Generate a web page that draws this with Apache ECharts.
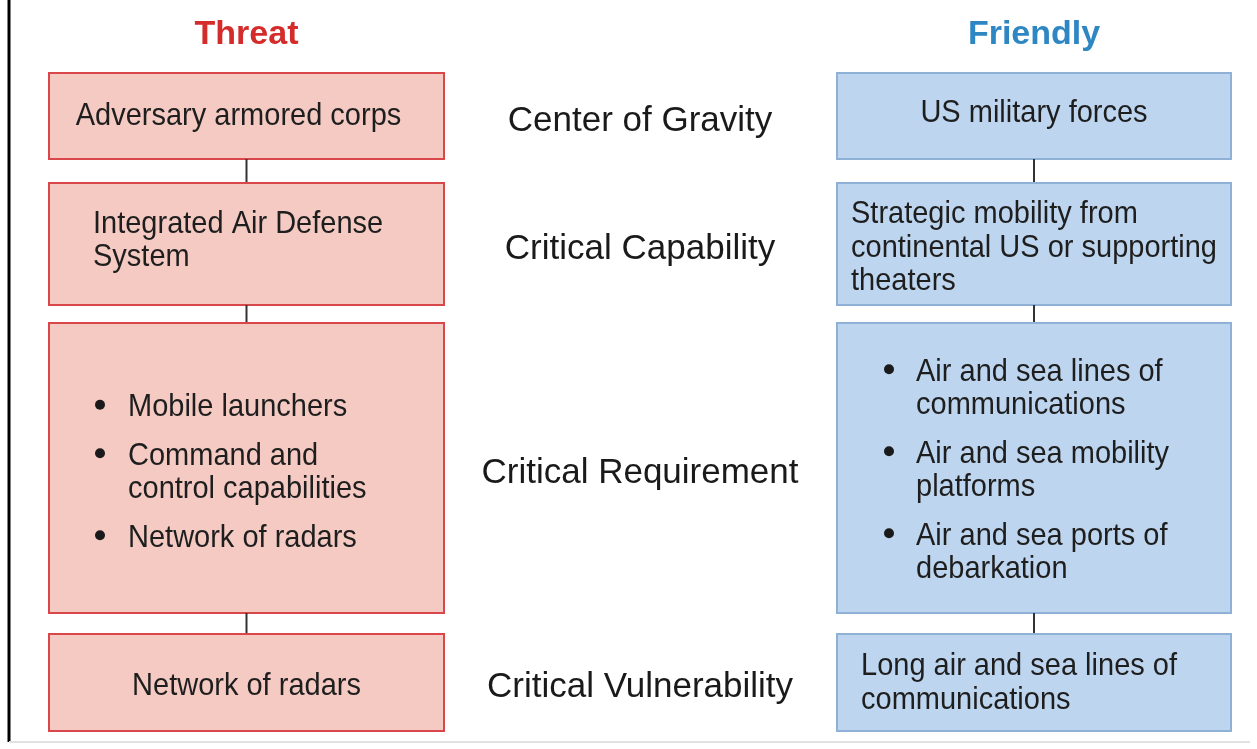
<!DOCTYPE html>
<html>
<head>
<meta charset="utf-8">
<title>Center of gravity analysis</title>
<script src="https://cdn.jsdelivr.net/npm/echarts@6/dist/echarts.min.js"></script>
<style>
  html, body { margin: 0; padding: 0; background: #ffffff; }
  #main { width: 1257px; height: 749px; }
</style>
</head>
<body>
<div id="main"></div>
<script>
// content of the diagram
var columnTitles = ['Threat', 'Friendly'];
var rowLabels = ['Center of Gravity', 'Critical Capability', 'Critical Requirement', 'Critical Vulnerability'];
// a string is a plain box, an array is a bullet list
var threatBoxes = [
    'Adversary armored corps',
    'Integrated Air Defense\nSystem',
    ['Mobile launchers', 'Command and\ncontrol capabilities', 'Network of radars'],
    'Network of radars'
];
var friendlyBoxes = [
    'US military forces',
    'Strategic mobility from\ncontinental US or supporting\ntheaters',
    ['Air and sea lines of\ncommunications', 'Air and sea mobility\nplatforms', 'Air and sea ports of\ndebarkation'],
    'Long air and sea lines of\ncommunications'
];

// layout (pixel units of the hidden axes)
var rowTop = [73, 183, 323, 634];
var rowBottom = [159, 305, 613, 731];
var cols = [
    { x0: 49, x1: 444, fill: '#f4cac3', stroke: '#d9474b', title: '#d42b2b', boxes: threatBoxes,
      place: [{ a: 'center', dx: -8, dy: -3 }, { a: 'left', pad: 44, dy: -6 }, { a: 'bullet', bx: 51, tx: 79, dy: 2 }, { a: 'center', dx: 0, dy: 1 }] },
    { x0: 837, x1: 1231, fill: '#bdd5ef', stroke: '#8fb1d6', title: '#2e87c3', boxes: friendlyBoxes,
      place: [{ a: 'center', dx: 0, dy: -6 }, { a: 'left', pad: 14, dy: 1 }, { a: 'bullet', bx: 52, tx: 79, dy: 0 }, { a: 'left', pad: 24, dy: -2 }] }
];
var FONT = '"Liberation Sans", Arial, sans-serif';
var LH = 33.5, GAP = 15, SHIFT = 3;

function txt(p, s, size, color, align, weight, sy) {
    return {
        type: 'text',
        x: p[0], y: p[1],
        scaleY: sy || 1,
        style: { text: s, x: 0, y: 0, fill: color, fontSize: size, fontFamily: FONT,
                 fontWeight: weight || 'normal', align: align, verticalAlign: 'middle' }
    };
}

function renderRow(params, api) {
    var i = api.value(0);
    var kids = [];
    var cy = (rowTop[i] + rowBottom[i]) / 2;
    cols.forEach(function (c, k) {
        var tl = api.coord([c.x0, rowTop[i]]);
        var br = api.coord([c.x1, rowBottom[i]]);
        var mid = (c.x0 + c.x1) / 2;
        if (i === 0) {
            kids.push(txt(api.coord([mid, 34.5]), columnTitles[k], 34, c.title, 'center', 'bold'));
        } else {
            var a = api.coord([mid, rowBottom[i - 1]]), b = api.coord([mid, rowTop[i]]);
            kids.push({ type: 'line', shape: { x1: a[0], y1: a[1], x2: b[0], y2: b[1] },
                        style: { stroke: '#333333', lineWidth: 2 } });
        }
        kids.push({ type: 'rect', shape: { x: tl[0], y: tl[1], width: br[0] - tl[0], height: br[1] - tl[1] },
                    style: { fill: c.fill, stroke: c.stroke, lineWidth: 2 } });
        var content = c.boxes[i], pl = c.place[i];
        if (Array.isArray(content)) {
            var items = content.map(function (s) { return s.split('\n'); });
            var nLines = items.reduce(function (n, it) { return n + it.length; }, 0);
            var total = (nLines - 1) * LH + (items.length - 1) * GAP;
            var y = cy + pl.dy - total / 2;
            items.forEach(function (lines) {
                var bp = api.coord([c.x0 + pl.bx, y]);
                kids.push({ type: 'circle', shape: { cx: bp[0], cy: bp[1], r: 5 }, style: { fill: '#1a1a1a' } });
                lines.forEach(function (ln) {
                    kids.push(txt(api.coord([c.x0 + pl.tx, y + SHIFT]), ln, 29, '#1e1e1e', 'left', null, 1.08));
                    y += LH;
                });
                y += GAP;
            });
        } else {
            var lines = content.split('\n');
            var y0 = cy + pl.dy - (lines.length - 1) * LH / 2;
            lines.forEach(function (ln, j) {
                var x = pl.a === 'center' ? mid + pl.dx : c.x0 + pl.pad;
                kids.push(txt(api.coord([x, y0 + j * LH + SHIFT]), ln, 29, '#1e1e1e', pl.a, null, 1.08));
            });
        }
    });
    kids.push(txt(api.coord([640, cy + 2 + SHIFT]), rowLabels[i], 35, '#1a1a1a', 'center'));
    return { type: 'group', children: kids };
}

var chart = echarts.init(document.getElementById('main'));
chart.setOption({
    animation: false,
    backgroundColor: '#ffffff',
    grid: { left: 0, right: 0, top: 0, bottom: 0 },
    xAxis: { type: 'value', min: 0, max: 1257, show: false },
    yAxis: { type: 'value', min: 0, max: 749, inverse: true, show: false },
    graphic: [
        { type: 'line', shape: { x1: 9, y1: 0, x2: 9, y2: 742 }, style: { stroke: '#000000', lineWidth: 3 } },
        { type: 'line', shape: { x1: 9, y1: 742, x2: 1250, y2: 742 }, style: { stroke: '#e2e2e2', lineWidth: 2 } }
    ],
    series: [{
        type: 'custom',
        renderItem: renderRow,
        data: rowLabels.map(function (_, i) { return [i]; }),
        silent: true
    }]
});
</script>
</body>
</html>
